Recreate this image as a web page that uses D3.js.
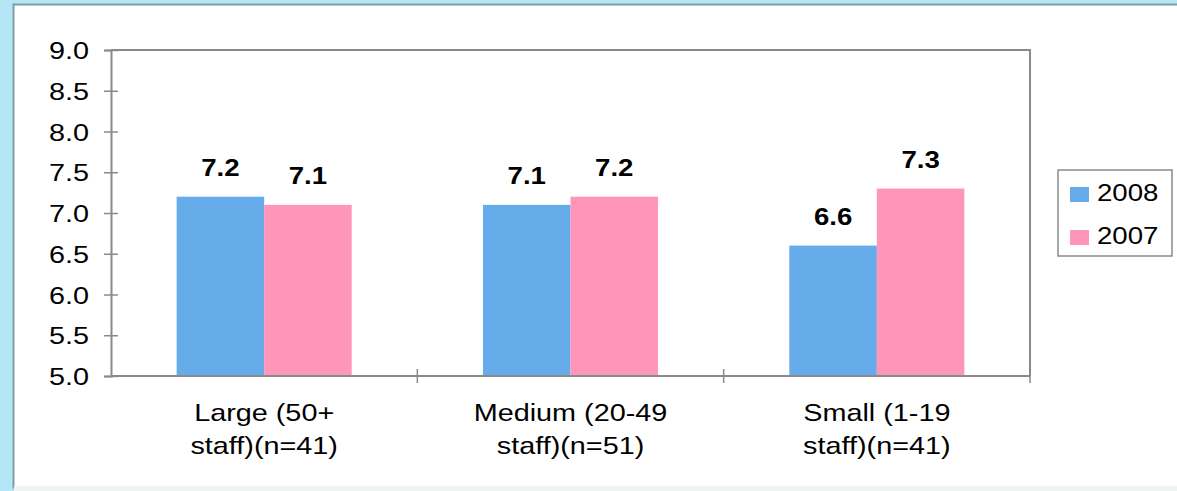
<!DOCTYPE html>
<html>
<head>
<meta charset="utf-8">
<script src="https://cdn.jsdelivr.net/npm/d3@7/dist/d3.min.js"></script>
<style>
  html, body { margin: 0; padding: 0; background: #b4e6f6; }
  svg { display: block; }
</style>
</head>
<body>
<svg id="chart" width="1177" height="491"></svg>
<script>
// Staff-size groups and average scores per survey year
const categories = [
  ["Large (50+", "staff)(n=41)"],
  ["Medium (20-49", "staff)(n=51)"],
  ["Small (1-19", "staff)(n=41)"]
];
const seriesNames = ["2008", "2007"];
const values2008 = [7.2, 7.1, 6.6];
const values2007 = [7.1, 7.2, 7.3];
const yTicks = [5.0, 5.5, 6.0, 6.5, 7.0, 7.5, 8.0, 8.5, 9.0];
const colors = ["#66abea", "#ff95b9"];

const svg = d3.select("#chart");
const font = "Arial, 'Liberation Sans', sans-serif";
const stretch = 1.2;   // wide glyph proportions used throughout

// Places a horizontally widened text at (px, py)
function placeText(sel, px, py) {
  sel.attr("transform", `translate(${px},${py}) scale(${stretch},1)`);
}

// Outer white panel with a thin grey-teal frame
svg.append("rect")
  .attr("x", 13.5).attr("y", 4.5)
  .attr("width", 1170).attr("height", 483)
  .attr("fill", "#ffffff")
  .attr("stroke", "#7d9ea6").attr("stroke-width", 2);
svg.append("rect")
  .attr("x", 14).attr("y", 486).attr("width", 1163).attr("height", 5)
  .attr("fill", "#eef3f3");

const plot = { left: 111, right: 1030, top: 50, bottom: 376 };

const x = d3.scaleBand()
  .domain(d3.range(categories.length))
  .range([plot.left, plot.right]);
const inner = d3.scaleBand()
  .domain(seriesNames)
  .range([0, x.bandwidth()])
  .paddingOuter(0.75);
const y = d3.scaleLinear()
  .domain([5, 9])
  .range([plot.bottom, plot.top]);

// Plot-area frame (top and right edges)
svg.append("path")
  .attr("d", `M${plot.left},${plot.top}H${plot.right}V${plot.bottom}`)
  .attr("fill", "none").attr("stroke", "#8a8a8a").attr("stroke-width", 2);

// Bars and value labels
const data = [values2008, values2007];
seriesNames.forEach((name, si) => {
  svg.append("g").selectAll("rect")
    .data(data[si])
    .join("rect")
    .attr("x", (d, i) => x(i) + inner(name))
    .attr("y", d => y(d))
    .attr("width", inner.bandwidth())
    .attr("height", d => y(5) - y(d))
    .attr("fill", colors[si]);

  svg.append("g").selectAll("text")
    .data(data[si])
    .join("text")
    .each(function(d, i) {
      placeText(d3.select(this), x(i) + inner(name) + inner.bandwidth() / 2, y(d) - 21);
    })
    .attr("text-anchor", "middle")
    .attr("font-family", font)
    .attr("font-size", 23)
    .attr("font-weight", "bold")
    .attr("fill", "#000")
    .text(d => d.toFixed(1));
});

// Y axis
const yAxis = svg.append("g")
  .attr("transform", `translate(${plot.left},0)`)
  .call(d3.axisLeft(y).tickValues(yTicks).tickFormat(d3.format(".1f")).tickSize(7));
yAxis.select(".domain").attr("stroke", "#8a8a8a").attr("stroke-width", 2);
yAxis.selectAll(".tick line").attr("stroke", "#8a8a8a").attr("stroke-width", 1.5)
  .attr("x1", 7);
yAxis.selectAll(".tick text")
  .attr("x", 0).attr("dy", "0.36em")
  .attr("transform", `translate(-22,0) scale(${stretch},1)`)
  .attr("font-family", font).attr("font-size", 24).attr("fill", "#000");

// X axis with category boundary ticks
const xAxis = svg.append("g")
  .attr("transform", `translate(0,${plot.bottom})`);
xAxis.append("line")
  .attr("x1", plot.left).attr("x2", plot.right)
  .attr("stroke", "#8a8a8a").attr("stroke-width", 2);
const boundaries = d3.range(1, categories.length + 1).map(i => x(i - 1) + x.bandwidth());
xAxis.selectAll("line.tick")
  .data(boundaries)
  .join("line")
  .attr("class", "tick")
  .attr("x1", d => d).attr("x2", d => d)
  .attr("y1", -7).attr("y2", 7)
  .attr("stroke", "#8a8a8a").attr("stroke-width", 1.5);

categories.forEach((lines, i) => {
  lines.forEach((line, li) => {
    xAxis.append("text")
      .call(placeText, x(i) + x.bandwidth() / 2, 45 + li * 33)
      .attr("text-anchor", "middle")
      .attr("font-family", font)
      .attr("font-size", 24)
      .attr("fill", "#000")
      .text(line);
  });
});

// Legend
const legend = svg.append("g").attr("transform", "translate(1058,170)");
legend.append("rect")
  .attr("width", 114).attr("height", 86)
  .attr("fill", "#fff").attr("stroke", "#8a8a8a").attr("stroke-width", 1.5);
seriesNames.forEach((name, i) => {
  legend.append("rect")
    .attr("x", 12).attr("y", 17 + i * 43)
    .attr("width", 19).attr("height", 15)
    .attr("fill", colors[i]);
  legend.append("text")
    .call(placeText, 39, 31 + i * 43)
    .attr("font-family", font).attr("font-size", 23).attr("fill", "#000")
    .text(name);
});
</script>
</body>
</html>
